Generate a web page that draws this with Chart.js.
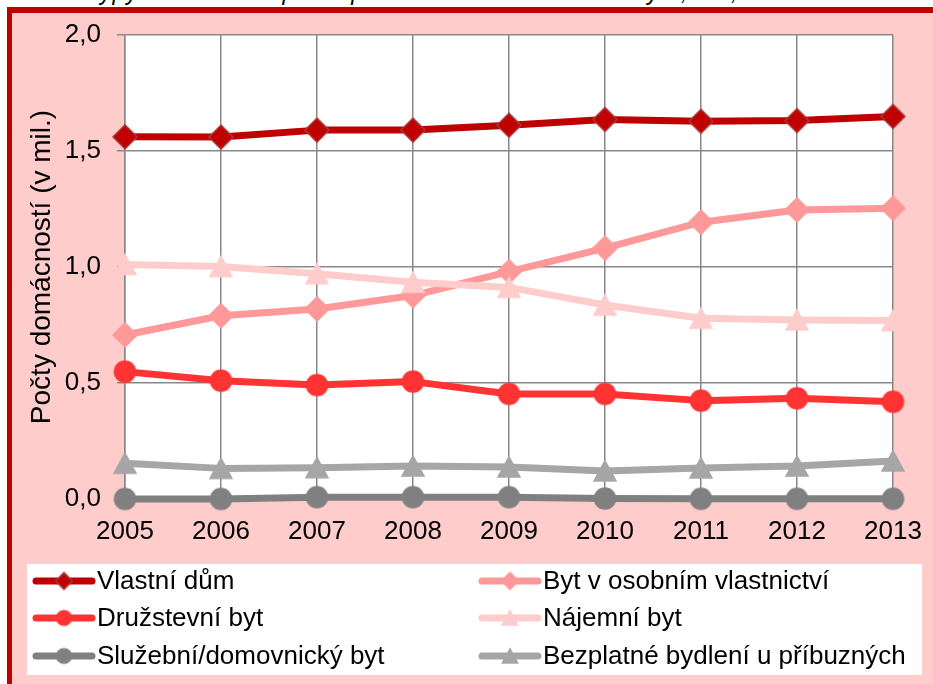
<!DOCTYPE html>
<html><head><meta charset="utf-8">
<script src="https://cdn.jsdelivr.net/npm/chart.js@4"></script>
<style>
html,body{margin:0;padding:0;background:#fff;overflow:hidden;}
#wrap{position:relative;width:933px;height:684px;overflow:hidden;}
#title{position:absolute;left:2px;top:-21px;font:italic 23px "Liberation Sans",Arial,sans-serif;white-space:nowrap;color:#000;letter-spacing:1px;}
#frame{position:absolute;left:7px;top:7px;width:940px;height:700px;border-left:5px solid #C00000;border-top:6px solid #C00000;background:#FFCCCC;}
canvas{position:absolute;left:0;top:0;}
</style></head><body>
<div id="wrap">
<div id="title">Graf 2: Typy domácností podle právního důvodu užívání bytu, ČR, 2005–2013</div>
<div id="frame"></div>
<canvas id="c" width="933" height="684"></canvas>
</div>
<script>
// ---- data ----
const years = ['2005','2006','2007','2008','2009','2010','2011','2012','2013'];
const vlastniDum = [1.561,1.560,1.590,1.590,1.611,1.636,1.628,1.631,1.649];
const bytOsobni  = [0.707,0.790,0.819,0.877,0.980,1.081,1.193,1.246,1.253];
const druzstevni = [0.549,0.510,0.491,0.506,0.453,0.453,0.424,0.434,0.419];
const najemni    = [1.011,1.002,0.971,0.934,0.912,0.836,0.779,0.772,0.769];
const sluzebni   = [0.000,0.000,0.008,0.008,0.008,0.002,0.001,0.001,0.001];
const bezplatne  = [0.154,0.132,0.135,0.142,0.138,0.121,0.134,0.142,0.164];
const seriesNames = ['Vlastní dům','Byt v osobním vlastnictví','Družstevní byt','Nájemní byt','Služební/domovnický byt','Bezplatné bydlení u příbuzných'];
const yTicks = [0, 0.5, 1.0, 1.5, 2.0];
const yTitle = 'Počty domácností (v mil.)';

// ---- styles ----
const FONT = '"Liberation Sans", Arial, sans-serif';
const colors  = ['#C00000','#FF9999','#FF3333','#FFCCCC','#808080','#A6A6A6'];
const strokes = ['#A83A3A','#FF9999','#FF3333','#FFCCCC','#808080','#A6A6A6'];
const shapes  = ['diamond','diamond','circle','triangle','circle','triangle'];

function makeMarker(shape, fill, stroke, s){
  const c = document.createElement('canvas');
  const pad = 3;
  c.width = Math.ceil(s + pad*2); c.height = Math.ceil(s + pad*2);
  const g = c.getContext('2d');
  const cx = c.width/2, cy = c.height/2, r = s/2;
  g.beginPath();
  if(shape==='diamond'){
    g.moveTo(cx, cy-r); g.lineTo(cx+r, cy); g.lineTo(cx, cy+r); g.lineTo(cx-r, cy); g.closePath();
  } else if(shape==='circle'){
    g.arc(cx, cy, r, 0, Math.PI*2);
  } else {
    const h = s*0.92;
    g.moveTo(cx, cy-h/2); g.lineTo(cx+r, cy+h/2); g.lineTo(cx-r, cy+h/2); g.closePath();
  }
  g.fillStyle = fill; g.fill();
  g.lineWidth = 1.5; g.strokeStyle = stroke; g.stroke();
  return c;
}
const markerSizes = {diamond:24, circle:21, triangle:22};
const bigMarkers = shapes.map((sh,i)=>makeMarker(sh, colors[i], strokes[i], markerSizes[sh]));
const smallMarkers = shapes.map((sh,i)=>makeMarker(sh, colors[i], strokes[i], markerSizes[sh]*0.7));

const seriesData = [vlastniDum, bytOsobni, druzstevni, najemni, sluzebni, bezplatne];
const datasets = seriesData.map((d,i)=>({
  label: seriesNames[i],
  data: d,
  borderColor: colors[i],
  backgroundColor: colors[i],
  borderWidth: 7,
  borderCapStyle: 'round',
  borderJoinStyle: 'round',
  pointStyle: bigMarkers[i],
  pointRadius: 11,
  tension: 0,
  clip: false,
  order: 10 - i
}));

const bgPlugin = {
  id: 'bg',
  beforeDraw(chart){
    const {ctx, chartArea:a} = chart;
    ctx.save(); ctx.fillStyle = '#FFFFFF';
    ctx.fillRect(a.left, a.top, a.right-a.left, a.bottom-a.top);
    ctx.restore();
  }
};

const legendPlugin = {
  id: 'customLegend',
  afterDraw(chart){
    const ctx = chart.ctx;
    ctx.save();
    ctx.fillStyle = '#FFFFFF';
    ctx.fillRect(27, 564, 895, 111);
    const colX = [36, 482];
    const rowY = [581, 618, 656];
    chart.data.datasets.forEach((ds,i)=>{
      const x0 = colX[i%2], y = rowY[Math.floor(i/2)];
      ctx.beginPath();
      ctx.lineCap = 'round';
      ctx.strokeStyle = ds.borderColor; ctx.lineWidth = 7;
      ctx.moveTo(x0, y); ctx.lineTo(x0+56, y); ctx.stroke();
      const m = smallMarkers[i];
      ctx.drawImage(m, x0+28-m.width/2, y-m.height/2);
      ctx.fillStyle = '#000';
      ctx.font = '26px ' + FONT;
      ctx.textBaseline = 'middle'; ctx.textAlign = 'left';
      ctx.fillText(ds.label, x0+61, y+1);
    });
    ctx.restore();
  }
};

new Chart(document.getElementById('c').getContext('2d'), {
  type: 'line',
  data: { labels: years, datasets },
  options: {
    responsive: false,
    animation: false,
    layout: { padding: { left: 0, right: 40, top: 35, bottom: 135 } },
    plugins: { legend: { display: false }, tooltip: { enabled: false }, title: { display: false } },
    scales: {
      x: {
        offset: false,
        grid: { color: '#888888', lineWidth: 1.5, drawTicks: false },
        border: { color: '#888888', width: 1.5 },
        ticks: { color: '#000', font: { family: FONT, size: 26 }, padding: 17, maxRotation: 0, autoSkip: false },
        afterFit(s){ s.height = 50; s.paddingLeft = 0; s.paddingRight = 0; }
      },
      y: {
        min: 0, max: 2,
        afterBuildTicks(s){ s.ticks = yTicks.map(v=>({value:v})); },
        ticks: { color: '#000', font: { family: FONT, size: 26 }, padding: 16,
          callback: v => v.toFixed(1).replace('.', ',') },
        grid: { color: '#888888', lineWidth: 1.5, tickLength: 8 },
        border: { color: '#888888', width: 1.5 },
        title: { display: true, text: yTitle, color: '#000', font: { family: FONT, size: 28 }, padding: { top: 25, bottom: 0 } },
        afterFit(s){ s.width = 125; s.paddingTop = 0; s.paddingBottom = 0; }
      }
    }
  },
  plugins: [bgPlugin, legendPlugin]
});
</script>
</body></html>
